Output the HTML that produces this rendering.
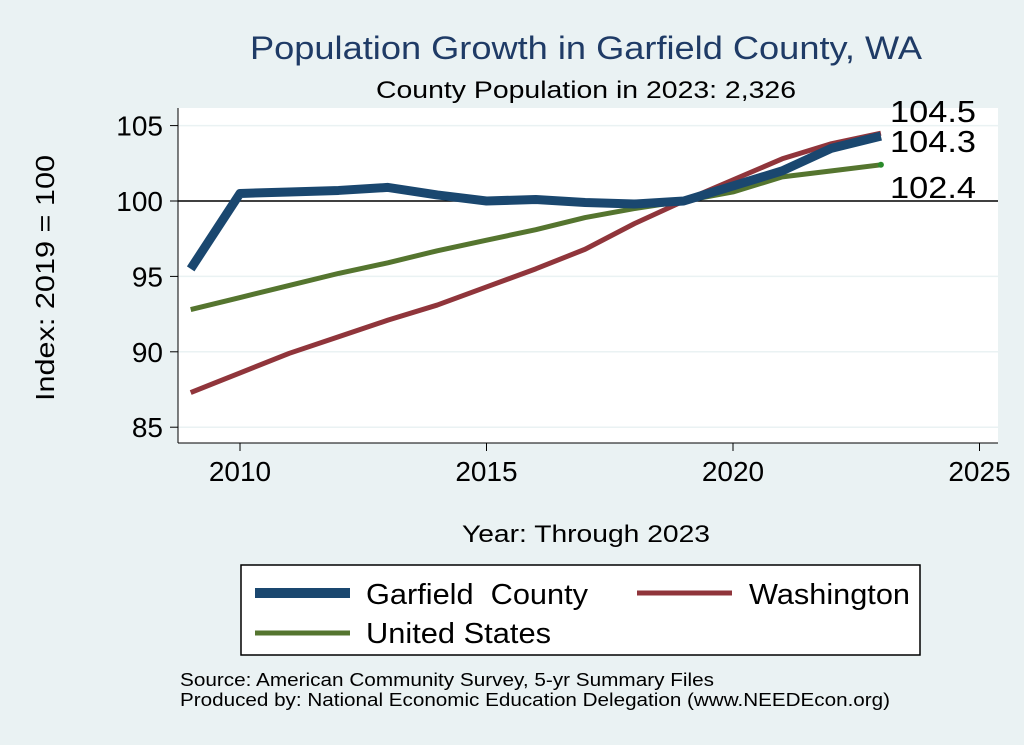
<!DOCTYPE html>
<html><head><meta charset="utf-8"><style>
body{margin:0;background:#eaf2f3;}
svg{display:block;font-family:"Liberation Sans",Arial,sans-serif;}
</style></head><body>
<svg id="chart" width="1024" height="745">
<rect x="0" y="0" width="1024" height="745" fill="#eaf2f3"/>
<rect x="178" y="108" width="820" height="335" fill="#ffffff"/>
<text x="250" y="59" font-size="32" fill="#1f3b66" textLength="672" lengthAdjust="spacingAndGlyphs">Population Growth in Garfield County, WA</text>
<text x="376" y="98" font-size="24" fill="#000" textLength="420" lengthAdjust="spacingAndGlyphs">County Population in 2023: 2,326</text>
<g id="grid"></g><g id="axes"></g><g id="series"></g><g id="labels"></g>
<text x="54" y="278" font-size="26" text-anchor="middle" textLength="246" lengthAdjust="spacingAndGlyphs" transform="rotate(-90 54 278)">Index: 2019 = 100</text>
<text x="462" y="542" font-size="24" textLength="248" lengthAdjust="spacingAndGlyphs">Year: Through 2023</text>
<g>
<rect x="241" y="565" width="679" height="90" fill="#fff" stroke="#000" stroke-width="1.5"/>
<line x1="255" y1="593" x2="350" y2="593" stroke="#1a476f" stroke-width="10"/>
<text x="366" y="604" font-size="29" textLength="222" lengthAdjust="spacingAndGlyphs">Garfield&#160; County</text>
<line x1="637" y1="593" x2="732" y2="593" stroke="#90353b" stroke-width="5"/>
<text x="749" y="604" font-size="29" textLength="161" lengthAdjust="spacingAndGlyphs">Washington</text>
<line x1="255" y1="633" x2="350" y2="633" stroke="#55752f" stroke-width="5"/>
<text x="366" y="643" font-size="29" textLength="185" lengthAdjust="spacingAndGlyphs">United States</text>
</g>
<text x="180" y="686" font-size="18" textLength="534" lengthAdjust="spacingAndGlyphs">Source: American Community Survey, 5-yr Summary Files</text>
<text x="180" y="706" font-size="18" textLength="710" lengthAdjust="spacingAndGlyphs">Produced by: National Economic Education Delegation (www.NEEDEcon.org)</text>
</svg>
<script>
const years=[2009,2010,2011,2012,2013,2014,2015,2016,2017,2018,2019,2020,2021,2022,2023];
const garfield=[95.5,100.5,100.6,100.7,100.9,100.4,100.0,100.1,99.9,99.8,100.0,101.0,102.0,103.5,104.3];
const washington=[87.3,88.6,89.9,91.0,92.1,93.1,94.3,95.5,96.8,98.5,100.0,101.4,102.8,103.8,104.5];
const unitedStates=[92.8,93.6,94.4,95.2,95.9,96.7,97.4,98.1,98.9,99.5,100.0,100.6,101.6,102.0,102.4];
const xTicks=[2010,2015,2020,2025];
const yTicks=[85,90,95,100,105];
const endLabels=["104.5","104.3","102.4"];
const NS="http://www.w3.org/2000/svg";
const X=v=>240+(v-2010)*49.3;
const Y=v=>201-(v-100)*15.08;
function mk(tag,attrs,parent){const e=document.createElementNS(NS,tag);for(const k in attrs)e.setAttribute(k,attrs[k]);document.getElementById(parent).appendChild(e);return e;}
yTicks.forEach(t=>{
 if(t!==100){const g=mk('line',{x1:178,x2:998,y1:Y(t),y2:Y(t),stroke:'#eaf2f3','stroke-width':1.5},'grid');
 
 }
 const tk=mk('line',{x1:170,x2:178,y1:Y(t),y2:Y(t),stroke:'#000'},'axes');
 
 
 const l=mk('text',{x:163,y:Y(t)+10,'font-size':28,'text-anchor':'end'},'axes');l.textContent=t;
 
 
});
const ref=mk('line',{x1:178,x2:998,y1:Y(100),y2:Y(100),stroke:'#000','stroke-width':1.5},'grid');


const ya=mk('line',{x1:178,x2:178,y1:108,y2:443,stroke:'#000'},'axes');


const xa=mk('line',{x1:178,x2:998,y1:443,y2:443,stroke:'#000'},'axes');


xTicks.forEach(t=>{
 const tk=mk('line',{x1:X(t),x2:X(t),y1:443,y2:451,stroke:'#000'},'axes');
 
 
 const l=mk('text',{x:X(t),y:481,'font-size':28,'text-anchor':'middle'},'axes');l.textContent=t;
 
 
});
function line(vals,color,w,name){
 const p=mk('polyline',{points:vals.map((v,i)=>X(years[i])+','+Y(v)).join(' '),fill:'none',stroke:color,'stroke-width':w,'stroke-linejoin':'round'},'series');
 
 
}
line(unitedStates,'#55752f',5,'line-united-states');
line(washington,'#90353b',5,'line-washington');
line(garfield,'#1a476f',9,'line-garfield-county');
const n=years.length-1;
const dot=mk('circle',{cx:X(years[n]),cy:Y(unitedStates[n]),r:3,fill:'#2a8a2a'},'series');


const endVals=[washington[n],garfield[n],unitedStates[n]];
const offs=[-11,16,33];
endVals.forEach((v,i)=>{
 const t=mk('text',{x:890,y:Y(v)+offs[i],'font-size':31,textLength:86,lengthAdjust:'spacingAndGlyphs'},'labels');t.textContent=endLabels[i];
 
 
});
</script>
</body></html>
